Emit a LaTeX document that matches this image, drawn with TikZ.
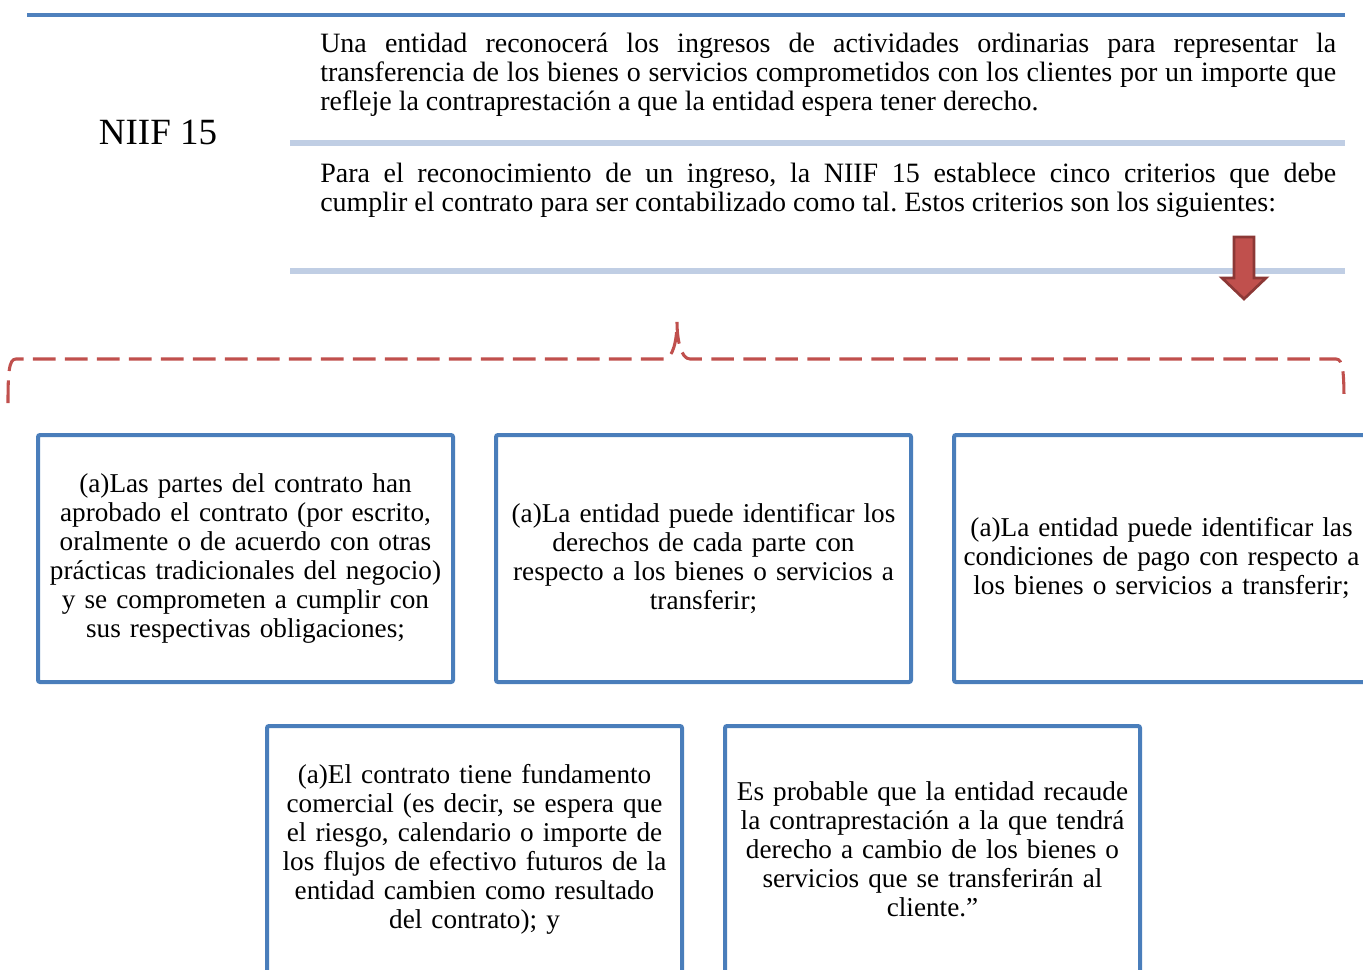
\documentclass[tikz,border=0pt]{standalone}
\usepackage{fontspec}
\setmainfont{Liberation Serif}
\usepackage{xcolor}
\usetikzlibrary{positioning,calc}
\frenchspacing

\definecolor{niifblue}{RGB}{79,129,189}
\definecolor{boxblue}{RGB}{74,126,187}
\definecolor{rulelight}{RGB}{192,206,228}
\definecolor{bracered}{RGB}{192,80,77}
\definecolor{arrowdark}{RGB}{140,56,54}

\tikzset{
    critbox/.style={draw=boxblue, line width=3pt, rounded corners=1.5pt,
        minimum width=311.25pt, minimum height=185.25pt, text width=308pt,
        align=center, inner sep=0pt, font=\fontsize{20.4}{21.75}\selectfont},
    paratext/.style={anchor=north west, inner sep=0pt, text width=762pt,
        align=justify, font=\fontsize{21}{21.75}\selectfont}
}

\begin{document}
\begin{tikzpicture}[x=0.75pt, y=-0.75pt]
    \useasboundingbox (0,0) rectangle (1363,970);
    \clip (0,0) rectangle (1363,970);

    % Header rules
    \draw [niifblue, line width=2.6pt] (27,15) -- (1345,15);
    \draw [rulelight, line width=3.8pt] (290,143) -- (1345,143);
    \draw [rulelight, line width=3.8pt] (290,271) -- (1345,271);

    % Title and paragraphs
    \node [anchor=base, inner sep=0pt, font=\fontsize{27.75}{30}\selectfont] (title) at (158,145) {NIIF 15};
    \node [paratext] (parone) at (320,33) {Una entidad reconocerá los ingresos de actividades ordinarias para representar la\linebreak transferencia de los bienes o servicios comprometidos con los clientes por un importe que\linebreak refleje la contraprestación a que la entidad espera tener derecho.};
    \node [paratext] (partwo) at (320,163) {Para el reconocimiento de un ingreso, la NIIF 15 establece cinco criterios que debe\linebreak cumplir el contrato para ser contabilizado como tal. Estos criterios son los siguientes:};

    % Down arrow
    \draw [fill=bracered, draw=arrowdark, line width=2pt, line join=miter]
        (1234,237) -- (1254,237) -- (1254,278) -- (1266,278) -- (1244,299)
        -- (1222,278) -- (1234,278) -- cycle;

    % Dashed brace
    \draw [bracered, line width=2.3pt, dash pattern=on 17pt off 7pt]
        (8,403) .. controls (8,372) and (9,359) .. (16,359) -- (664,359)
        .. controls (673,359) and (677,340) .. (677,322)
        .. controls (677,340) and (681,359) .. (690,359) -- (1336,359)
        .. controls (1343,359) and (1344,372) .. (1344,403);

    % Criteria boxes
    \foreach \x/\y/\n/\t in {
        245.5/558.5/crita/{(a)Las partes del contrato han\\aprobado el contrato (por escrito,\\oralmente o de acuerdo con otras\\prácticas tradicionales del negocio)\\y se comprometen a cumplir con\\sus respectivas obligaciones;},
        703.5/558.5/critb/{(a)La entidad puede identificar los\\derechos de cada parte con\\respecto a los bienes o servicios a\\transferir;},
        1161.5/558.5/critc/{(a)La entidad puede identificar las\\condiciones de pago con respecto a\\los bienes o servicios a transferir;},
        474.5/849.5/critd/{(a)El contrato tiene fundamento\\comercial (es decir, se espera que\\el riesgo, calendario o importe de\\los flujos de efectivo futuros de la\\entidad cambien como resultado\\del contrato); y},
        932.5/849.5/crite/{Es probable que la entidad recaude\\la contraprestación a la que tendrá\\derecho a cambio de los bienes o\\servicios que se transferirán al\\cliente.”}} {
        \node [critbox] (\n) at (\x,\y) {\t};
    }
\end{tikzpicture}
\end{document}
